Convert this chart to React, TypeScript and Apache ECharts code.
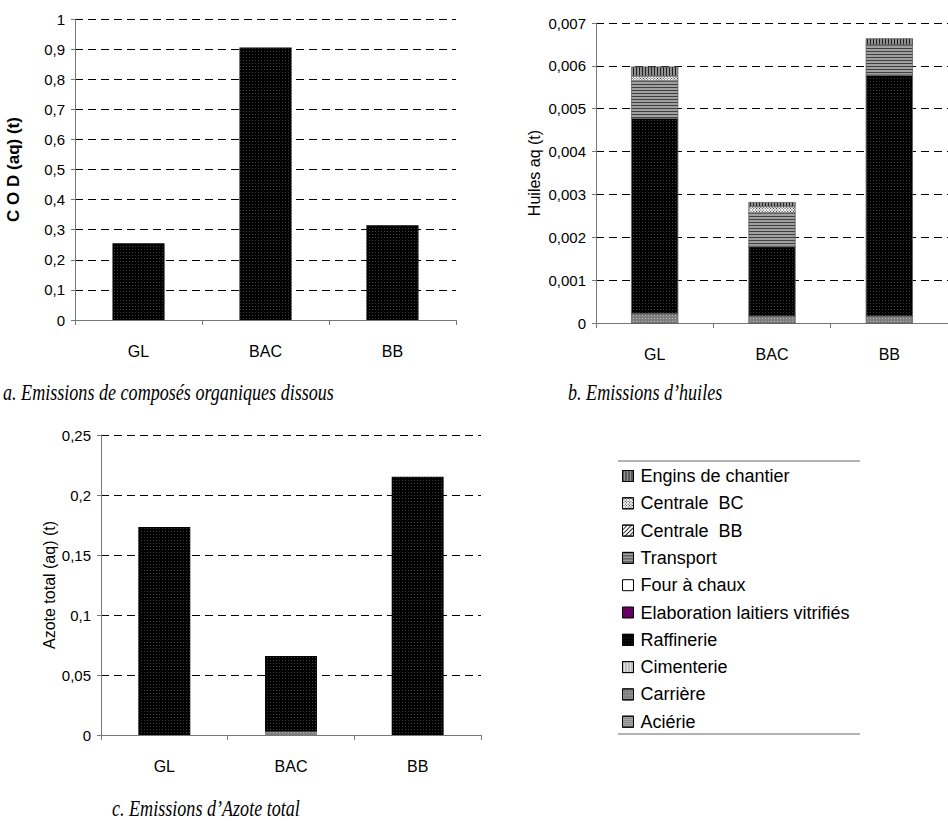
import React, { useEffect, useRef } from "react";
import * as echarts from "echarts";

const categories = ["GL", "BAC", "BB"];

// a. COD (aq) (t)
const codValues = [0.255, 0.905, 0.315];

// b. Huiles aq (t) — stacked by source
const legendNames = [
  "Engins de chantier",
  "Centrale  BC",
  "Centrale  BB",
  "Transport",
  "Four à chaux",
  "Elaboration laitiers vitrifiés",
  "Raffinerie",
  "Cimenterie",
  "Carrière",
  "Aciérie",
];
const huilesAcierie = [0, 0, 0];
const huilesCarriere = [0.000217, 0.000155, 0.000155];
const huilesCimenterie = [0, 0, 0];
const huilesRaffinerie = [0.00456, 0.00163, 0.00563];
const huilesElaboration = [0, 0, 0];
const huilesFour = [0, 0, 0];
const huilesTransport = [0.00087, 0.00078, 0.0007];
const huilesCentraleBB = [0, 0, 0];
const huilesCentraleBC = [0.000117, 0.000155, 0];
const huilesEngins = [0.000217, 0.0001, 0.000155];

// c. Azote total (aq) (t)
const azoteCarriere = [0, 0.0027, 0];
const azoteRaffinerie = [0.1733, 0.0631, 0.2153];

const SANS = '"Liberation Sans", Arial, sans-serif';
const SERIF = '"Liberation Serif", "Times New Roman", serif';

const styles: Record<string, any> = {
  "Aciérie": {
    color: "#b0b0b0",
    decal: { symbol: "rect", symbolSize: 1, color: "#555", dashArrayX: [1, 1], dashArrayY: [1, 1] },
  },
  "Carrière": {
    color: "#808080",
    decal: { symbol: "rect", symbolSize: 1, color: "#b8b8b8", dashArrayX: [1, 2], dashArrayY: [1, 2] },
  },
  "Cimenterie": {
    color: "#e0e0e0",
    decal: { symbol: "rect", symbolSize: 1, color: "#999", dashArrayX: [1, 2], dashArrayY: [1, 0] },
  },
  "Raffinerie": {
    color: "#000",
    decal: { symbol: "rect", symbolSize: 1, color: "#3c3c3c", dashArrayX: [1, 2], dashArrayY: [1, 2] },
  },
  "Elaboration laitiers vitrifiés": { color: "#660066" },
  "Four à chaux": { color: "#ffffff" },
  "Transport": {
    color: "#a0a0a0",
    decal: { symbol: "rect", symbolSize: 1, color: "#404040", dashArrayX: [1, 0], dashArrayY: [1, 2] },
  },
  "Centrale  BB": {
    color: "#ffffff",
    decal: { symbol: "rect", symbolSize: 1, color: "#333", dashArrayX: [1, 0], dashArrayY: [1, 2], rotation: -Math.PI / 4 },
  },
  "Centrale  BC": {
    color: "#ffffff",
    decal: { symbol: "rect", symbolSize: 1, color: "#222", dashArrayX: [1, 1], dashArrayY: [1, 1], rotation: Math.PI / 4 },
  },
  "Engins de chantier": {
    color: "#909090",
    decal: { symbol: "rect", symbolSize: 1, color: "#222", dashArrayX: [1, 2], dashArrayY: [1, 0] },
  },
};

const fmt = (v: number) => (v === 0 ? "0" : String(+v.toFixed(4)).replace(".", ","));

function xAxis(gridIndex: number) {
  return {
    type: "category",
    gridIndex,
    data: categories,
    axisLine: { lineStyle: { color: "#777", width: 1 } },
    axisTick: { show: true, length: 5, lineStyle: { color: "#777" } },
    axisLabel: { margin: 23, color: "#000", fontSize: 16, fontFamily: SANS },
  };
}

function yAxis(gridIndex: number, max: number, interval: number, name: string, nameGap: number, bold: boolean, nameSize: number) {
  return {
    type: "value",
    gridIndex,
    min: 0,
    max,
    interval,
    name,
    nameLocation: "middle",
    nameGap,
    nameRotate: 90,
    nameTextStyle: { color: "#000", fontSize: nameSize, fontFamily: SANS, fontWeight: bold ? "bold" : "normal" },
    axisLine: { show: true, lineStyle: { color: "#777", width: 1 } },
    axisTick: { show: true, length: 4, lineStyle: { color: "#777" } },
    axisLabel: { margin: 10, color: "#000", fontSize: 15, fontFamily: SANS, formatter: fmt },
    splitLine: { show: true, lineStyle: { color: "#000", width: 1, type: [8, 5] } },
  };
}

const huilesSeriesData: [string, number[]][] = [
  ["Aciérie", huilesAcierie],
  ["Carrière", huilesCarriere],
  ["Cimenterie", huilesCimenterie],
  ["Raffinerie", huilesRaffinerie],
  ["Elaboration laitiers vitrifiés", huilesElaboration],
  ["Four à chaux", huilesFour],
  ["Transport", huilesTransport],
  ["Centrale  BB", huilesCentraleBB],
  ["Centrale  BC", huilesCentraleBC],
  ["Engins de chantier", huilesEngins],
];

function caption(text: string, x: number, y: number) {
  return {
    type: "text",
    x,
    y,
    scaleY: 1.27,
    style: { text, fontSize: 18.1, fontStyle: "italic", fontFamily: SERIF, fill: "#000", verticalAlign: "middle" },
  };
}

export default function App() {
  const ref = useRef<HTMLDivElement>(null);
  useEffect(() => {
    if (!ref.current) return;
    const chart = echarts.init(ref.current, undefined, { renderer: "svg" });
    const series: any[] = [];
    series.push({
      type: "bar",
      name: "COD",
      xAxisIndex: 0,
      yAxisIndex: 0,
      data: codValues,
      barWidth: "41%",
      itemStyle: { ...styles["Raffinerie"] },
    });
    huilesSeriesData.forEach(([name, data]) => {
      series.push({
        type: "bar",
        name,
        stack: "huiles",
        xAxisIndex: 1,
        yAxisIndex: 1,
        data,
        barWidth: "40%",
        itemStyle: { ...styles[name], borderColor: "#666", borderWidth: 0.5 },
      });
    });
    series.push({
      type: "bar",
      name: "Azote Carrière",
      stack: "azote",
      xAxisIndex: 2,
      yAxisIndex: 2,
      data: azoteCarriere,
      barWidth: "41%",
      itemStyle: { ...styles["Carrière"] },
    });
    series.push({
      type: "bar",
      name: "Azote Raffinerie",
      stack: "azote",
      xAxisIndex: 2,
      yAxisIndex: 2,
      data: azoteRaffinerie,
      barWidth: "41%",
      itemStyle: { ...styles["Raffinerie"] },
    });

    chart.setOption({
      animation: false,
      backgroundColor: "#fff",
      grid: [
        { left: 75, top: 19, width: 381, height: 301 },
        { left: 596, top: 23, width: 372, height: 300 },
        { left: 101, top: 435, width: 380, height: 300 },
      ],
      xAxis: [xAxis(0), xAxis(1), xAxis(2)],
      yAxis: [
        yAxis(0, 1, 0.1, "C O D (aq) (t)", 53, true, 17),
        yAxis(1, 0.007, 0.001, "Huiles aq (t)", 54, false, 16),
        yAxis(2, 0.25, 0.05, "Azote total (aq) (t)", 31, false, 16),
      ],
      legend: {
        data: legendNames,
        orient: "vertical",
        left: 622,
        top: 467,
        padding: 0,
        itemWidth: 11,
        itemHeight: 11,
        itemGap: 9.3,
        icon: "rect",
        selectedMode: false,
        itemStyle: { borderColor: "#000", borderWidth: 1 },
        textStyle: { color: "#000", fontSize: 18, fontFamily: SANS, padding: [0, 0, 0, 2] },
      },
      graphic: [
        { type: "line", shape: { x1: 618, y1: 461, x2: 860, y2: 461 }, style: { stroke: "#666", lineWidth: 1 } },
        { type: "line", shape: { x1: 618, y1: 734, x2: 860, y2: 734 }, style: { stroke: "#666", lineWidth: 1 } },
        caption("a. Emissions de composés organiques dissous", 3, 392),
        caption("b. Emissions d’huiles", 568, 392),
        caption("c. Emissions d’Azote total", 112, 808),
      ],
      series,
    });
    return () => chart.dispose();
  }, []);
  return (
    <div
      ref={ref}
      style={{ position: "absolute", left: 0, top: 0, width: 948, height: 821, overflow: "hidden", background: "#fff" }}
    />
  );
}
